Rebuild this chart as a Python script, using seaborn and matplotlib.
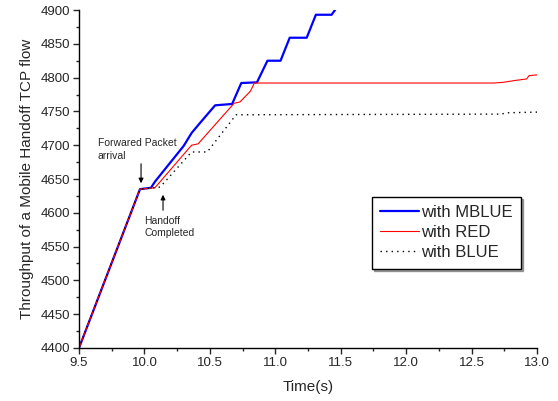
import matplotlib
matplotlib.use("Agg")
import matplotlib.pyplot as plt
from matplotlib.ticker import MultipleLocator
import seaborn as sns

# ── data ────────────────────────────────────────────────────────────────────
mblue_t = [9.50, 9.966, 10.05, 10.08, 10.30, 10.36, 10.425, 10.54, 10.67,
           10.74, 10.86, 10.94, 11.04, 11.11, 11.24, 11.31, 11.43, 11.46]
mblue_y = [4400, 4635, 4637, 4646, 4699, 4718, 4733, 4759, 4761,
           4792, 4793, 4825, 4825, 4859, 4859, 4893, 4893, 4901]

red_t = [9.50, 9.966, 10.08, 10.36, 10.41, 10.685, 10.73, 10.81, 10.84,
         12.67, 12.74, 12.84, 12.92, 12.94, 13.00]
red_y = [4400, 4635, 4637, 4700, 4702, 4762, 4764, 4780, 4792,
         4792, 4793, 4796, 4798, 4803, 4804]

blue_t = [9.50, 9.966, 10.12, 10.36, 10.48, 10.70, 12.72, 12.78, 13.00]
blue_y = [4400, 4635, 4638, 4690, 4690, 4745, 4746, 4748, 4749]

sns.set_style("ticks")
plt.rcParams["font.family"] = ["Liberation Sans", "DejaVu Sans"]

fig = plt.figure(figsize=(5.58, 4.01), dpi=100)
ax = fig.add_axes([0.1416, 0.1322, 0.8208, 0.8428])

sns.lineplot(x=mblue_t, y=mblue_y, ax=ax, color="#0000ff", lw=1.6,
             sort=False, estimator=None, label="with MBLUE")
sns.lineplot(x=red_t, y=red_y, ax=ax, color="#ff0000", lw=0.8,
             sort=False, estimator=None, label="with RED")
sns.lineplot(x=blue_t, y=blue_y, ax=ax, color="black", lw=1.0,
             linestyle=(0, (1, 3)), sort=False, estimator=None,
             label="with BLUE")

ax.set_xlim(9.5, 13.0)
ax.set_ylim(4400, 4900)
ax.xaxis.set_major_locator(MultipleLocator(0.5))
ax.xaxis.set_minor_locator(MultipleLocator(0.25))
ax.yaxis.set_major_locator(MultipleLocator(50))
ax.yaxis.set_minor_locator(MultipleLocator(25))
ax.xaxis.set_major_formatter(matplotlib.ticker.FormatStrFormatter("%.1f"))
ax.tick_params(which="major", length=4.5, width=1, labelsize=9.5, pad=2)
ax.tick_params(which="minor", length=2.5, width=1)
for side in ("top", "right"):
    ax.spines[side].set_visible(False)
for side in ("left", "bottom"):
    ax.spines[side].set_linewidth(1)
    ax.spines[side].set_color("black")

ax.set_xlabel("Time(s)", fontsize=11, labelpad=8)
ax.set_ylabel("Throughput of a Mobile Handoff TCP flow", fontsize=11,
              labelpad=5)

# annotations
ax.annotate("", xy=(9.974, 4639.6), xytext=(9.974, 4676.6),
            arrowprops=dict(arrowstyle="-|>", color="black", lw=0.8,
                            mutation_scale=7))
ax.text(9.645, 4694, "Forwared Packet\narrival", fontsize=7.5,
        ha="left", va="center", linespacing=1.35)
ax.annotate("", xy=(10.142, 4630.8), xytext=(10.142, 4599.7),
            arrowprops=dict(arrowstyle="-|>", color="black", lw=0.8,
                            mutation_scale=7))
ax.text(9.997, 4579, "Handoff\nCompleted", fontsize=7.5,
        ha="left", va="center", linespacing=1.35)

leg = ax.legend(loc="upper left", bbox_to_anchor=(0.64, 0.447),
                fontsize=12, frameon=True, fancybox=False,
                shadow={"ox": 1.5, "oy": -1.5, "color": "0.3"},
                handlelength=2.3, handletextpad=0.15, borderpad=0.5,
                labelspacing=0.3, borderaxespad=0)
leg.get_frame().set_edgecolor("black")
leg.get_frame().set_linewidth(1)

fig.savefig("out.png", dpi=100)
